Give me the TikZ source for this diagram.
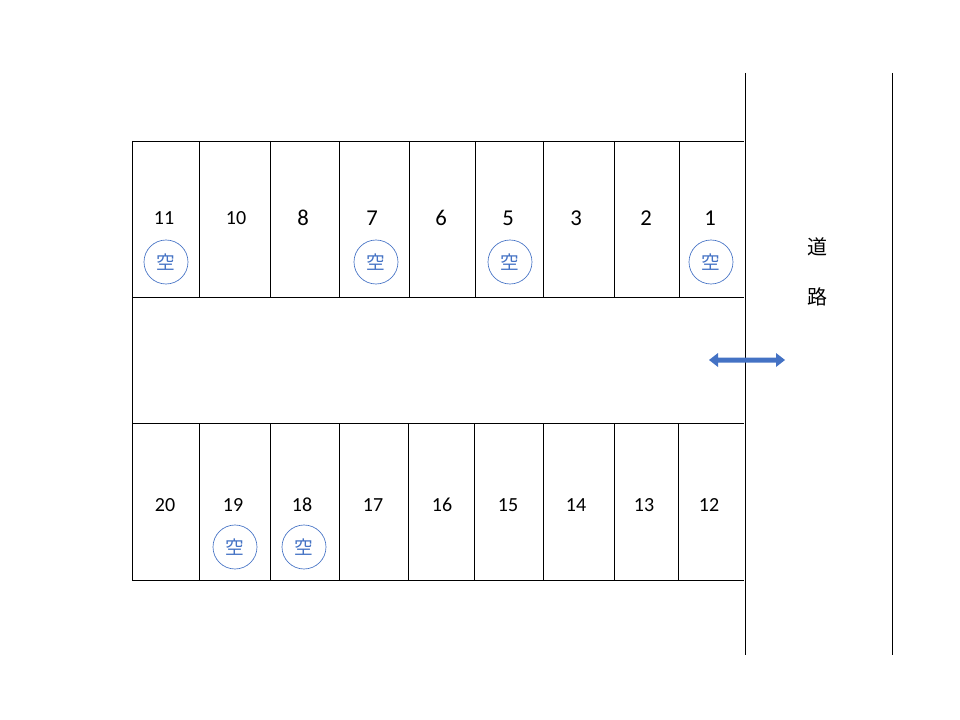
\documentclass[tikz,border=0pt]{standalone}
\usepackage{fontspec}
\setmainfont{Carlito}
\newfontfamily\cjk{Noto Sans CJK JP}
\definecolor{bl}{HTML}{4472C4}
\begin{document}
\begin{tikzpicture}[x=0.75pt,y=-0.75pt,
  ln/.style={draw=black,line width=0.6pt},
  num/.style={font=\fontsize{15}{15}\selectfont},
  numb/.style={font=\fontsize{17}{17}\selectfont},
  vac/.style={circle,draw=bl,line width=0.5pt,minimum size=33pt,inner sep=0pt,text=bl,font=\cjk\fontsize{14}{14}\selectfont},
  road/.style={font=\cjk\fontsize{15}{15}\selectfont}]
\useasboundingbox (0,0) rectangle (960,720);
% top row
\draw[ln] (132,141) -- (744,141) (132,297) -- (744,297) (132,423) -- (744,423) (132,580) -- (744,580) (132,141) -- (132,580);
\foreach \x in {199,270,339,409,475,543,614,679} \draw[ln] (\x,141) -- (\x,297);
\foreach \x in {199,270,339,408,474,543,614,678} \draw[ln] (\x,423) -- (\x,580);
\draw[ln] (745,73) -- (745,655) (892,73) -- (892,655);
\foreach \x/\n/\s in {164/11/num,236/10/num,303/8/numb,372/7/numb,441/6/numb,508/5/numb,576/3/numb,646/2/numb,710/1/numb}
  \node[\s] (t\n) at (\x,218) {\n};
\foreach \x/\n in {165/20,233/19,302/18,373/17,442/16,508/15,576/14,644/13,709/12}
  \node[num] (b\n) at (\x,505) {\n};
\foreach \x/\n in {166/a,376/b,510/c,711/d} \node[vac] (v\n) at (\x,262) {空};
\foreach \x/\n in {235/e,304/f} \node[vac] (v\n) at (\x,547) {空};
\node[road] (r1) at (817,247) {道};
\node[road] (r2) at (817,297) {路};
\fill[bl] (709,360) -- (718,353) -- (718,357.5) -- (776,357.5) -- (776,353) -- (785,360) -- (776,367) -- (776,362.5) -- (718,362.5) -- (718,367) -- cycle;
\end{tikzpicture}
\end{document}
